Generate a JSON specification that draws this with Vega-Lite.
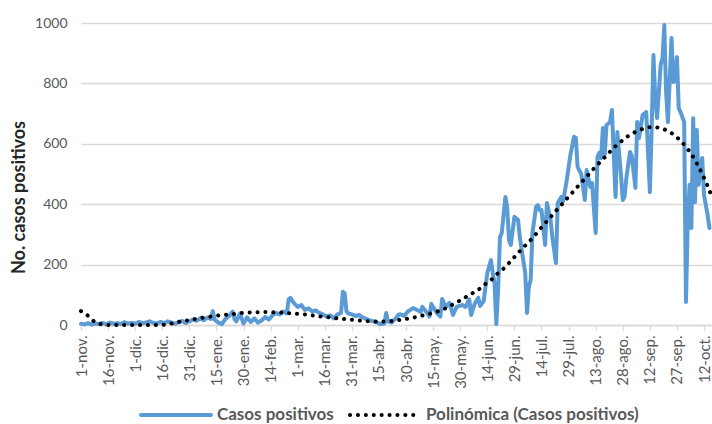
{
  "$schema": "https://vega.github.io/schema/vega-lite/v6.json",
  "width": 631,
  "height": 302,
  "autosize": {"type": "none"},
  "padding": {"left": 81, "top": 23, "right": 0, "bottom": 99},
  "background": "white",
  "config": {"font": "Lato", "view": {"stroke": null}, "axis": {"labelOverlap": false}},
  "datasets": {
    "casos": [
      {"fecha": "2020-11-01", "casos": 4}, {"fecha": "2020-11-03", "casos": 2}, {"fecha": "2020-11-05", "casos": 6}, {"fecha": "2020-11-07", "casos": 1},
      {"fecha": "2020-11-09", "casos": 5}, {"fecha": "2020-11-11", "casos": 3}, {"fecha": "2020-11-13", "casos": 7}, {"fecha": "2020-11-15", "casos": 2},
      {"fecha": "2020-11-17", "casos": 8}, {"fecha": "2020-11-19", "casos": 4}, {"fecha": "2020-11-21", "casos": 6}, {"fecha": "2020-11-23", "casos": 3},
      {"fecha": "2020-11-25", "casos": 9}, {"fecha": "2020-11-27", "casos": 5}, {"fecha": "2020-11-29", "casos": 7}, {"fecha": "2020-12-01", "casos": 4},
      {"fecha": "2020-12-03", "casos": 10}, {"fecha": "2020-12-05", "casos": 6}, {"fecha": "2020-12-07", "casos": 8}, {"fecha": "2020-12-09", "casos": 12},
      {"fecha": "2020-12-11", "casos": 7}, {"fecha": "2020-12-13", "casos": 5}, {"fecha": "2020-12-15", "casos": 10}, {"fecha": "2020-12-17", "casos": 6},
      {"fecha": "2020-12-19", "casos": 12}, {"fecha": "2020-12-21", "casos": 8}, {"fecha": "2020-12-23", "casos": 4}, {"fecha": "2020-12-25", "casos": 9},
      {"fecha": "2020-12-27", "casos": 13}, {"fecha": "2020-12-29", "casos": 7}, {"fecha": "2020-12-31", "casos": 12}, {"fecha": "2021-01-02", "casos": 18},
      {"fecha": "2021-01-04", "casos": 14}, {"fecha": "2021-01-06", "casos": 22}, {"fecha": "2021-01-08", "casos": 16}, {"fecha": "2021-01-10", "casos": 25},
      {"fecha": "2021-01-12", "casos": 20}, {"fecha": "2021-01-13", "casos": 46}, {"fecha": "2021-01-14", "casos": 18}, {"fecha": "2021-01-16", "casos": 8},
      {"fecha": "2021-01-18", "casos": 3}, {"fecha": "2021-01-20", "casos": 20}, {"fecha": "2021-01-22", "casos": 30}, {"fecha": "2021-01-24", "casos": 44},
      {"fecha": "2021-01-25", "casos": 20}, {"fecha": "2021-01-26", "casos": 12}, {"fecha": "2021-01-28", "casos": 38}, {"fecha": "2021-01-30", "casos": 5},
      {"fecha": "2021-02-01", "casos": 25}, {"fecha": "2021-02-03", "casos": 10}, {"fecha": "2021-02-05", "casos": 22}, {"fecha": "2021-02-07", "casos": 8},
      {"fecha": "2021-02-09", "casos": 15}, {"fecha": "2021-02-11", "casos": 26}, {"fecha": "2021-02-13", "casos": 18}, {"fecha": "2021-02-15", "casos": 32},
      {"fecha": "2021-02-17", "casos": 40}, {"fecha": "2021-02-19", "casos": 35}, {"fecha": "2021-02-21", "casos": 45}, {"fecha": "2021-02-23", "casos": 38},
      {"fecha": "2021-02-24", "casos": 85}, {"fecha": "2021-02-25", "casos": 90}, {"fecha": "2021-02-26", "casos": 80}, {"fecha": "2021-02-27", "casos": 72},
      {"fecha": "2021-03-01", "casos": 60}, {"fecha": "2021-03-03", "casos": 66}, {"fecha": "2021-03-05", "casos": 50}, {"fecha": "2021-03-07", "casos": 55},
      {"fecha": "2021-03-09", "casos": 45}, {"fecha": "2021-03-11", "casos": 48}, {"fecha": "2021-03-13", "casos": 40}, {"fecha": "2021-03-15", "casos": 35},
      {"fecha": "2021-03-17", "casos": 28}, {"fecha": "2021-03-19", "casos": 32}, {"fecha": "2021-03-21", "casos": 22}, {"fecha": "2021-03-23", "casos": 35},
      {"fecha": "2021-03-25", "casos": 40}, {"fecha": "2021-03-26", "casos": 110}, {"fecha": "2021-03-27", "casos": 105}, {"fecha": "2021-03-28", "casos": 45},
      {"fecha": "2021-03-29", "casos": 38}, {"fecha": "2021-03-31", "casos": 35}, {"fecha": "2021-04-02", "casos": 30}, {"fecha": "2021-04-04", "casos": 33},
      {"fecha": "2021-04-06", "casos": 25}, {"fecha": "2021-04-08", "casos": 20}, {"fecha": "2021-04-10", "casos": 15}, {"fecha": "2021-04-12", "casos": 12},
      {"fecha": "2021-04-14", "casos": 8}, {"fecha": "2021-04-16", "casos": 3}, {"fecha": "2021-04-18", "casos": 5}, {"fecha": "2021-04-19", "casos": 40},
      {"fecha": "2021-04-20", "casos": 12}, {"fecha": "2021-04-22", "casos": 8}, {"fecha": "2021-04-24", "casos": 20}, {"fecha": "2021-04-26", "casos": 35},
      {"fecha": "2021-04-27", "casos": 35}, {"fecha": "2021-04-29", "casos": 30}, {"fecha": "2021-05-01", "casos": 45}, {"fecha": "2021-05-04", "casos": 56},
      {"fecha": "2021-05-06", "casos": 50}, {"fecha": "2021-05-08", "casos": 43}, {"fecha": "2021-05-09", "casos": 60}, {"fecha": "2021-05-11", "casos": 45},
      {"fecha": "2021-05-13", "casos": 28}, {"fecha": "2021-05-14", "casos": 70}, {"fecha": "2021-05-17", "casos": 40}, {"fecha": "2021-05-19", "casos": 28},
      {"fecha": "2021-05-20", "casos": 86}, {"fecha": "2021-05-22", "casos": 60}, {"fecha": "2021-05-24", "casos": 73}, {"fecha": "2021-05-26", "casos": 33},
      {"fecha": "2021-05-28", "casos": 60}, {"fecha": "2021-05-31", "casos": 66}, {"fecha": "2021-06-02", "casos": 60}, {"fecha": "2021-06-04", "casos": 85},
      {"fecha": "2021-06-05", "casos": 33}, {"fecha": "2021-06-07", "casos": 70}, {"fecha": "2021-06-09", "casos": 90}, {"fecha": "2021-06-10", "casos": 63},
      {"fecha": "2021-06-12", "casos": 80}, {"fecha": "2021-06-14", "casos": 172}, {"fecha": "2021-06-16", "casos": 215}, {"fecha": "2021-06-17", "casos": 172},
      {"fecha": "2021-06-18", "casos": 139}, {"fecha": "2021-06-19", "casos": 3}, {"fecha": "2021-06-20", "casos": 120}, {"fecha": "2021-06-21", "casos": 290},
      {"fecha": "2021-06-22", "casos": 305}, {"fecha": "2021-06-24", "casos": 424}, {"fecha": "2021-06-25", "casos": 390}, {"fecha": "2021-06-26", "casos": 281},
      {"fecha": "2021-06-27", "casos": 265}, {"fecha": "2021-06-29", "casos": 358}, {"fecha": "2021-07-01", "casos": 348}, {"fecha": "2021-07-02", "casos": 290},
      {"fecha": "2021-07-03", "casos": 250}, {"fecha": "2021-07-05", "casos": 172}, {"fecha": "2021-07-06", "casos": 40}, {"fecha": "2021-07-07", "casos": 126},
      {"fecha": "2021-07-08", "casos": 149}, {"fecha": "2021-07-09", "casos": 305}, {"fecha": "2021-07-11", "casos": 391}, {"fecha": "2021-07-12", "casos": 397},
      {"fecha": "2021-07-13", "casos": 380}, {"fecha": "2021-07-14", "casos": 381}, {"fecha": "2021-07-16", "casos": 265}, {"fecha": "2021-07-17", "casos": 404},
      {"fecha": "2021-07-19", "casos": 350}, {"fecha": "2021-07-20", "casos": 291}, {"fecha": "2021-07-22", "casos": 205}, {"fecha": "2021-07-23", "casos": 404},
      {"fecha": "2021-07-25", "casos": 424}, {"fecha": "2021-07-26", "casos": 410}, {"fecha": "2021-07-28", "casos": 480}, {"fecha": "2021-07-30", "casos": 563},
      {"fecha": "2021-08-01", "casos": 623}, {"fecha": "2021-08-02", "casos": 620}, {"fecha": "2021-08-03", "casos": 523}, {"fecha": "2021-08-05", "casos": 500},
      {"fecha": "2021-08-07", "casos": 414}, {"fecha": "2021-08-08", "casos": 513}, {"fecha": "2021-08-10", "casos": 457}, {"fecha": "2021-08-11", "casos": 470},
      {"fecha": "2021-08-13", "casos": 305}, {"fecha": "2021-08-14", "casos": 556}, {"fecha": "2021-08-15", "casos": 570}, {"fecha": "2021-08-16", "casos": 553},
      {"fecha": "2021-08-17", "casos": 652}, {"fecha": "2021-08-18", "casos": 563}, {"fecha": "2021-08-19", "casos": 662}, {"fecha": "2021-08-21", "casos": 672},
      {"fecha": "2021-08-22", "casos": 712}, {"fecha": "2021-08-24", "casos": 424}, {"fecha": "2021-08-25", "casos": 639}, {"fecha": "2021-08-27", "casos": 497},
      {"fecha": "2021-08-28", "casos": 414}, {"fecha": "2021-08-29", "casos": 424}, {"fecha": "2021-08-30", "casos": 487}, {"fecha": "2021-09-01", "casos": 573},
      {"fecha": "2021-09-02", "casos": 560}, {"fecha": "2021-09-04", "casos": 454}, {"fecha": "2021-09-05", "casos": 672}, {"fecha": "2021-09-06", "casos": 619},
      {"fecha": "2021-09-08", "casos": 695}, {"fecha": "2021-09-10", "casos": 705}, {"fecha": "2021-09-12", "casos": 440}, {"fecha": "2021-09-13", "casos": 650},
      {"fecha": "2021-09-14", "casos": 894}, {"fecha": "2021-09-15", "casos": 752}, {"fecha": "2021-09-16", "casos": 685}, {"fecha": "2021-09-18", "casos": 861},
      {"fecha": "2021-09-19", "casos": 884}, {"fecha": "2021-09-20", "casos": 993}, {"fecha": "2021-09-21", "casos": 771}, {"fecha": "2021-09-22", "casos": 672},
      {"fecha": "2021-09-24", "casos": 950}, {"fecha": "2021-09-25", "casos": 805}, {"fecha": "2021-09-26", "casos": 810}, {"fecha": "2021-09-27", "casos": 887},
      {"fecha": "2021-09-28", "casos": 718}, {"fecha": "2021-09-29", "casos": 705}, {"fecha": "2021-10-01", "casos": 672}, {"fecha": "2021-10-02", "casos": 76},
      {"fecha": "2021-10-03", "casos": 341}, {"fecha": "2021-10-04", "casos": 464}, {"fecha": "2021-10-05", "casos": 321}, {"fecha": "2021-10-06", "casos": 685},
      {"fecha": "2021-10-07", "casos": 407}, {"fecha": "2021-10-08", "casos": 646}, {"fecha": "2021-10-09", "casos": 464}, {"fecha": "2021-10-11", "casos": 553},
      {"fecha": "2021-10-12", "casos": 430}, {"fecha": "2021-10-14", "casos": 364}, {"fecha": "2021-10-15", "casos": 321}
    ],
    "poli": [
      {"fecha": "2020-11-01", "valor": 46}, {"fecha": "2020-11-05", "valor": 30}, {"fecha": "2020-11-08", "valor": 13}, {"fecha": "2020-11-12", "valor": 3},
      {"fecha": "2020-11-17", "valor": 0}, {"fecha": "2020-12-01", "valor": 0}, {"fecha": "2020-12-15", "valor": 0}, {"fecha": "2020-12-19", "valor": 3},
      {"fecha": "2020-12-23", "valor": 7}, {"fecha": "2020-12-27", "valor": 13}, {"fecha": "2021-01-01", "valor": 17}, {"fecha": "2021-01-05", "valor": 22},
      {"fecha": "2021-01-10", "valor": 26}, {"fecha": "2021-01-14", "valor": 30}, {"fecha": "2021-01-19", "valor": 33}, {"fecha": "2021-01-24", "valor": 36},
      {"fecha": "2021-01-28", "valor": 39}, {"fecha": "2021-02-01", "valor": 41}, {"fecha": "2021-02-06", "valor": 42}, {"fecha": "2021-02-11", "valor": 43},
      {"fecha": "2021-02-15", "valor": 42}, {"fecha": "2021-02-20", "valor": 41}, {"fecha": "2021-02-24", "valor": 39}, {"fecha": "2021-03-01", "valor": 37},
      {"fecha": "2021-03-05", "valor": 35}, {"fecha": "2021-03-09", "valor": 32}, {"fecha": "2021-03-14", "valor": 28}, {"fecha": "2021-03-19", "valor": 25},
      {"fecha": "2021-03-23", "valor": 22}, {"fecha": "2021-03-28", "valor": 19}, {"fecha": "2021-04-02", "valor": 16}, {"fecha": "2021-04-06", "valor": 14},
      {"fecha": "2021-04-11", "valor": 12}, {"fecha": "2021-04-15", "valor": 11}, {"fecha": "2021-04-20", "valor": 12}, {"fecha": "2021-04-24", "valor": 15},
      {"fecha": "2021-04-29", "valor": 19}, {"fecha": "2021-05-03", "valor": 23}, {"fecha": "2021-05-08", "valor": 30}, {"fecha": "2021-05-13", "valor": 37},
      {"fecha": "2021-05-17", "valor": 44}, {"fecha": "2021-05-21", "valor": 53}, {"fecha": "2021-05-25", "valor": 65}, {"fecha": "2021-05-29", "valor": 78},
      {"fecha": "2021-06-02", "valor": 92}, {"fecha": "2021-06-06", "valor": 106}, {"fecha": "2021-06-10", "valor": 121}, {"fecha": "2021-06-13", "valor": 136},
      {"fecha": "2021-06-17", "valor": 154}, {"fecha": "2021-06-20", "valor": 172}, {"fecha": "2021-06-24", "valor": 192}, {"fecha": "2021-06-27", "valor": 212},
      {"fecha": "2021-06-30", "valor": 231}, {"fecha": "2021-07-03", "valor": 251}, {"fecha": "2021-07-07", "valor": 275}, {"fecha": "2021-07-10", "valor": 295},
      {"fecha": "2021-07-13", "valor": 316}, {"fecha": "2021-07-16", "valor": 337}, {"fecha": "2021-07-19", "valor": 357}, {"fecha": "2021-07-22", "valor": 378},
      {"fecha": "2021-07-25", "valor": 398}, {"fecha": "2021-07-28", "valor": 418}, {"fecha": "2021-07-31", "valor": 438}, {"fecha": "2021-08-03", "valor": 458},
      {"fecha": "2021-08-06", "valor": 478}, {"fecha": "2021-08-09", "valor": 498}, {"fecha": "2021-08-12", "valor": 518}, {"fecha": "2021-08-15", "valor": 537},
      {"fecha": "2021-08-18", "valor": 555}, {"fecha": "2021-08-21", "valor": 574}, {"fecha": "2021-08-24", "valor": 592}, {"fecha": "2021-08-28", "valor": 612},
      {"fecha": "2021-08-31", "valor": 626}, {"fecha": "2021-09-05", "valor": 642}, {"fecha": "2021-09-09", "valor": 651}, {"fecha": "2021-09-13", "valor": 655},
      {"fecha": "2021-09-17", "valor": 653}, {"fecha": "2021-09-21", "valor": 645}, {"fecha": "2021-09-25", "valor": 631}, {"fecha": "2021-09-29", "valor": 610},
      {"fecha": "2021-10-02", "valor": 590}, {"fecha": "2021-10-05", "valor": 566}, {"fecha": "2021-10-08", "valor": 535}, {"fecha": "2021-10-11", "valor": 500},
      {"fecha": "2021-10-14", "valor": 460}, {"fecha": "2021-10-16", "valor": 430}
    ]
  },
  "encoding": {
    "x": {
      "field": "fecha", "type": "temporal",
      "scale": {"type": "utc", "domain": [{"year": 2020, "month": 11, "date": 1, "utc": true}, {"year": 2021, "month": 10, "date": 16, "hours": 10, "utc": true}]},
      "axis": {
        "title": null,
        "grid": false,
        "values": [
          {"year": 2020, "month": 11, "date": 1, "utc": true}, {"year": 2020, "month": 11, "date": 16, "utc": true},
          {"year": 2020, "month": 12, "date": 1, "utc": true}, {"year": 2020, "month": 12, "date": 16, "utc": true},
          {"year": 2020, "month": 12, "date": 31, "utc": true}, {"year": 2021, "month": 1, "date": 15, "utc": true},
          {"year": 2021, "month": 1, "date": 30, "utc": true}, {"year": 2021, "month": 2, "date": 14, "utc": true},
          {"year": 2021, "month": 3, "date": 1, "utc": true}, {"year": 2021, "month": 3, "date": 16, "utc": true},
          {"year": 2021, "month": 3, "date": 31, "utc": true}, {"year": 2021, "month": 4, "date": 15, "utc": true},
          {"year": 2021, "month": 4, "date": 30, "utc": true}, {"year": 2021, "month": 5, "date": 15, "utc": true},
          {"year": 2021, "month": 5, "date": 30, "utc": true}, {"year": 2021, "month": 6, "date": 14, "utc": true},
          {"year": 2021, "month": 6, "date": 29, "utc": true}, {"year": 2021, "month": 7, "date": 14, "utc": true},
          {"year": 2021, "month": 7, "date": 29, "utc": true}, {"year": 2021, "month": 8, "date": 13, "utc": true},
          {"year": 2021, "month": 8, "date": 28, "utc": true}, {"year": 2021, "month": 9, "date": 12, "utc": true},
          {"year": 2021, "month": 9, "date": 27, "utc": true}, {"year": 2021, "month": 10, "date": 12, "utc": true}
        ],
        "labelExpr": "utcdate(datum.value) + '-' + ['ene','feb','mar','abr','may','jun','jul','ago','sep','oct','nov','dic'][utcmonth(datum.value)] + '.'",
        "labelAngle": -90,
        "labelFontSize": 15,
        "labelColor": "#595959",
        "labelPadding": 5,
        "labelOverlap": false,
        "labelSeparation": 0,
        "labelBound": false,
        "labelFlush": false,
        "tickColor": "#d9d9d9",
        "tickSize": 5,
        "tickWidth": 1.3,
        "domainColor": "#d9d9d9",
        "domainWidth": 1.3
      }
    }
  },
  "layer": [
    {
      "data": {"name": "casos"},
      "mark": {"type": "line", "strokeWidth": 4, "strokeJoin": "round", "strokeCap": "round"},
      "encoding": {
        "y": {
          "field": "casos", "type": "quantitative",
          "scale": {"domain": [0, 1000], "nice": false},
          "axis": {
            "values": [0, 200, 400, 600, 800, 1000],
            "format": "d",
            "grid": true, "gridColor": "#d9d9d9", "gridWidth": 1.3,
            "domain": false, "ticks": false,
            "labelPadding": 14, "labelFontSize": 14, "labelColor": "#595959",
            "title": "No.  casos positivos", "titleFontSize": 18, "titleFontWeight": "bold", "titleColor": "#262626", "titlePadding": 6,
            "titleY": 174
          }
        },
        "color": {
          "datum": "Casos positivos", "type": "nominal",
          "scale": {"domain": ["Casos positivos", "Polinómica (Casos positivos)"], "range": ["#5B9BD5", "#000000"]},
          "legend": {
            "title": null, "orient": "none", "legendX": 58, "legendY": 355, "direction": "horizontal",
            "symbolType": "stroke", "symbolSize": 4900, "symbolStrokeWidth": 4,
            "labelFontSize": 17, "labelFontWeight": "bold", "labelColor": "#595959", "labelOffset": 4,
            "columnPadding": 8, "padding": 0, "labelLimit": 400,
            "encoding": {"symbols": {"strokeCap": {"value": "round"}}}
          }
        },
        "strokeDash": {
          "datum": "Casos positivos", "type": "nominal",
          "scale": {"domain": ["Casos positivos", "Polinómica (Casos positivos)"], "range": [[1, 0], [0.1, 7.8]]},
          "legend": {
            "title": null, "orient": "none", "legendX": 58, "legendY": 355, "direction": "horizontal",
            "symbolType": "stroke", "symbolSize": 4900, "symbolStrokeWidth": 4,
            "labelFontSize": 17, "labelFontWeight": "bold", "labelColor": "#595959", "labelOffset": 4,
            "columnPadding": 8, "padding": 0, "labelLimit": 400,
            "encoding": {"symbols": {"strokeCap": {"value": "round"}}}
          }
        }
      }
    },
    {
      "data": {"name": "poli"},
      "mark": {"type": "line", "strokeWidth": 4, "strokeCap": "round", "interpolate": "monotone"},
      "encoding": {
        "y": {"field": "valor", "type": "quantitative"},
        "color": {"datum": "Polinómica (Casos positivos)", "type": "nominal"},
        "strokeDash": {"datum": "Polinómica (Casos positivos)", "type": "nominal"}
      }
    }
  ]
}
